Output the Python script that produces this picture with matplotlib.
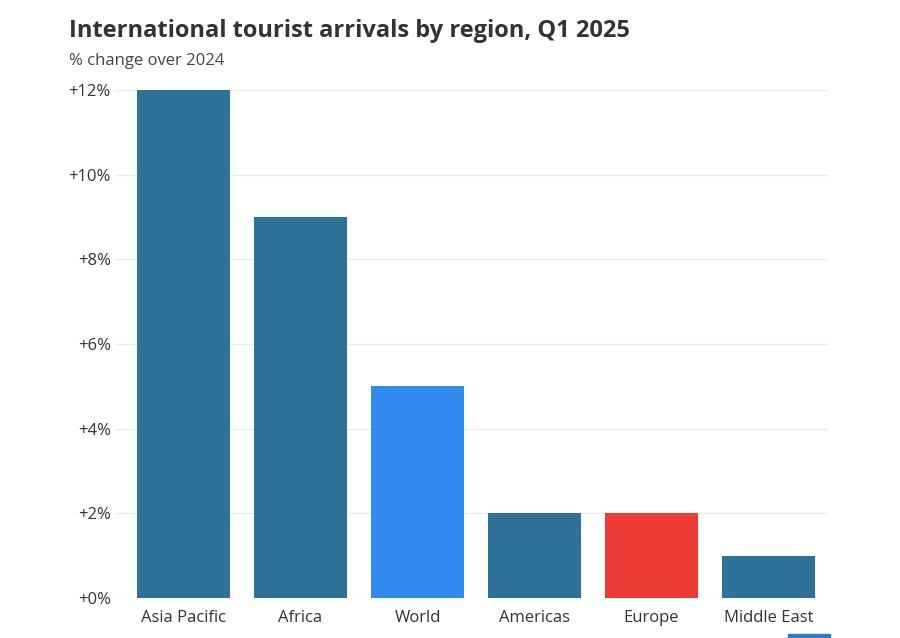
import matplotlib
matplotlib.use("Agg")
import matplotlib.pyplot as plt
from matplotlib.patches import Rectangle

regions = ["Asia Pacific", "Africa", "World", "Americas", "Europe", "Middle East"]
values = [12, 9, 5, 2, 2, 1]
colors = ["#2e7199", "#2e7199", "#318bf0", "#2e7199", "#ef3b36", "#2e7199"]
yticks = [0, 2, 4, 6, 8, 10, 12]
ytick_labels = ["+0%", "+2%", "+4%", "+6%", "+8%", "+10%", "+12%"]

plt.rcParams['font.family'] = ['Open Sans', 'DejaVu Sans']

fig = plt.figure(figsize=(9, 6.38), dpi=100)
ax = fig.add_axes([115/900, 40/638, (828-115)/900, (598-90)/638])

x = list(range(len(regions)))
ax.bar(x, values, width=0.795, color=colors, zorder=3)
ax.set_xlim(-0.585, 5.509)
ax.set_ylim(0, 12)
ax.set_yticks(yticks)
ax.set_yticklabels(ytick_labels)
ax.set_xticks(x)
ax.set_xticklabels(regions)
ax.tick_params(axis='both', length=0, labelsize=12, colors="#333333")
ax.tick_params(axis='y', pad=3)
ax.tick_params(axis='x', pad=9)
ax.grid(axis='y', color="#ebebeb", linewidth=1, zorder=0)
for s in ax.spines.values():
    s.set_visible(False)

fig.text(69/900, 1 - 31/638, "International tourist arrivals by region, Q1 2025",
         fontsize=17, fontweight='bold', color="#333333", va='center', ha='left')
fig.text(69/900, 1 - 61/638, "% change over 2024", fontsize=12, color="#444444",
         va='center', ha='left')

fig.patches.append(Rectangle((788/900, 0), 42/900, 4/638, transform=fig.transFigure,
                             color="#2a7ad0", zorder=5))

fig.savefig("out.png", dpi=100)
